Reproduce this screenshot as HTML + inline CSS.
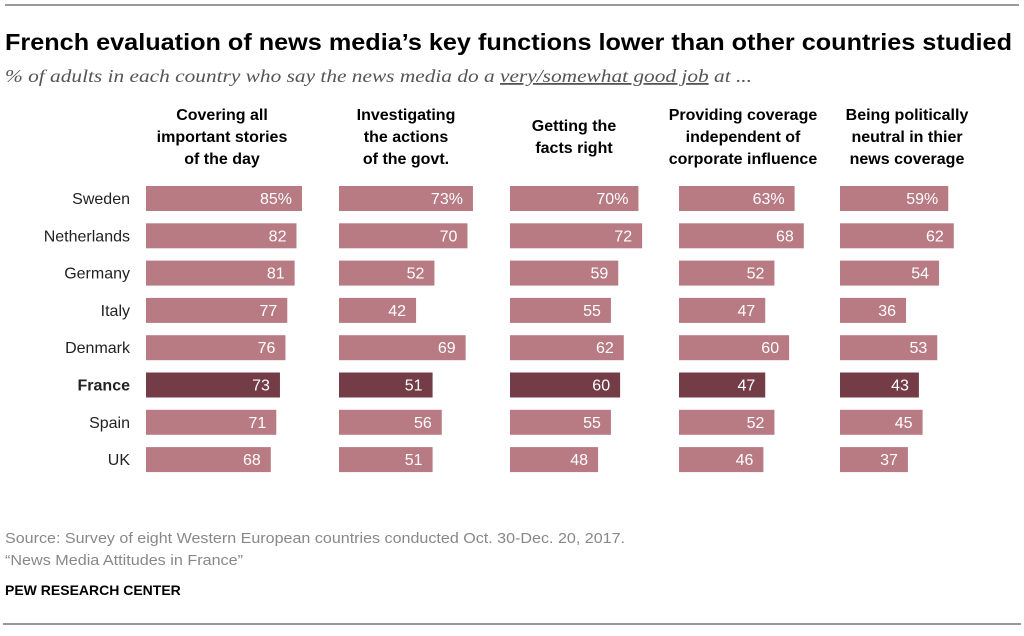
<!DOCTYPE html>
<html><head><meta charset="utf-8"><style>
body{margin:0;width:1024px;height:631px;background:#fff;overflow:hidden;font-family:"Liberation Sans",Arial,sans-serif;}
</style></head><body>
<svg width="1024" height="631" xmlns="http://www.w3.org/2000/svg">
<line x1="5" y1="5" x2="1019" y2="5" stroke="#999" stroke-width="2"/>
<text x="5" y="50" font-size="23" font-weight="bold" fill="#000" textLength="1007" lengthAdjust="spacingAndGlyphs">French evaluation of news media’s key functions lower than other countries studied</text>
<text x="5" y="82" font-size="18" font-style="italic" fill="#555" font-family="Liberation Serif,serif" textLength="747" lengthAdjust="spacingAndGlyphs">% of adults in each country who say the news media do a <tspan text-decoration="underline">very/somewhat good job</tspan> at ...</text>
<g id="headers"></g>
<g id="rows"></g>
<text x="5" y="543" font-size="15" fill="#888" textLength="620" lengthAdjust="spacingAndGlyphs">Source: Survey of eight Western European countries conducted Oct. 30-Dec. 20, 2017.</text>
<text x="5" y="565" font-size="15" fill="#888" textLength="238" lengthAdjust="spacingAndGlyphs">“News Media Attitudes in France”</text>
<text x="5" y="595" font-size="14" font-weight="bold" fill="#000">PEW RESEARCH CENTER</text>
<line x1="3" y1="624" x2="1021" y2="624" stroke="#777" stroke-width="1.5"/>
</svg>
<script>
const countries=["Sweden","Netherlands","Germany","Italy","Denmark","France","Spain","UK"];
const covering=[85,82,81,77,76,73,71,68];
const investigating=[73,70,52,42,69,51,56,51];
const facts=[70,72,59,55,62,60,55,48];
const independent=[63,68,52,47,60,47,52,46];
const neutral=[59,62,54,36,53,43,45,37];
const headers=[["Covering all","important stories","of the day"],["Investigating","the actions","of the govt."],["Getting the","facts right"],["Providing coverage","independent of","corporate influence"],["Being politically","neutral in thier","news coverage"]];
const series=[covering,investigating,facts,independent,neutral];
const colX=[146,339,510,679,840];
const headCX=[222,406,574,743,907];
const scale=v=>v*1.835;
const rowY=i=>186+i*37.3;
const NS="http://www.w3.org/2000/svg";
const hg=document.getElementById('headers'), rg=document.getElementById('rows');
function mk(tag,attrs,parent,txt){const e=document.createElementNS(NS,tag);for(const k in attrs)e.setAttribute(k,attrs[k]);if(txt!==undefined)e.textContent=txt;parent.appendChild(e);return e;}
headers.forEach((lines,c)=>{
  const y0=lines.length===3?120:131;
  lines.forEach((l,j)=>{
    const t=mk('text',{x:headCX[c],y:y0+j*22,'font-size':16,'font-weight':'bold','text-anchor':'middle',fill:'#000'},hg,l);
    
    
  });
});
countries.forEach((name,i)=>{
  const y=rowY(i), fr=name==="France";
  const lt=mk('text',{x:130,y:y+18,'font-size':16,'text-anchor':'end',fill:'#222','font-weight':fr?'bold':'normal'},rg,name);
  
  
  series.forEach((s,c)=>{
    const w=scale(s[i]);
    const r=mk('rect',{x:colX[c],y:y,width:w,height:25,fill:fr?'#733c47':'#b87a83'},rg);
    
    
    const vt=mk('text',{x:colX[c]+w-10,y:y+18,'font-size':16,'text-anchor':'end',fill:'#fff'},rg,s[i]+(i===0?'%':''));
    
    
  });
});
</script>
</body></html>
